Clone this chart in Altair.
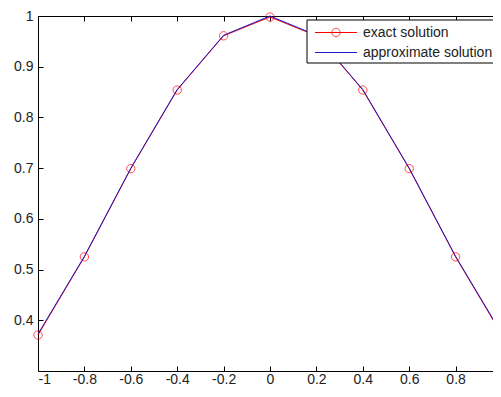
import altair as alt
import pandas as pd

x_vals = [-1.0, -0.8, -0.6, -0.4, -0.2, 0.0, 0.2, 0.4, 0.6, 0.8, 1.0]
exact_vals = [0.371, 0.525, 0.699, 0.854, 0.961, 0.998, 0.961, 0.854, 0.699, 0.525, 0.371]
approx_vals = [0.373, 0.526, 0.700, 0.855, 0.962, 1.000, 0.962, 0.855, 0.700, 0.526, 0.373]
x_ticks = [-1.0, -0.8, -0.6, -0.4, -0.2, 0.0, 0.2, 0.4, 0.6, 0.8, 1.0]
y_ticks = [0.4, 0.5, 0.6, 0.7, 0.8, 0.9, 1.0]
legend_labels = ["exact solution", "approximate solution"]

W, H = 464, 355
FONT = "Liberation Sans"

df = pd.DataFrame({"x": x_vals, "exact": exact_vals, "approx": approx_vals})
one = pd.DataFrame({"k": [0]})

xs = alt.Scale(domain=[-1, 1], nice=False, zero=False)
ys = alt.Scale(domain=[0.3, 1], nice=False, zero=False)

# the x = 1 label falls past the right edge of the picture in the reference
lab_expr = "datum.value >= 1 ? '' : replace(datum.label, '\u2212', '-')"

x_main = alt.Axis(orient="bottom", values=x_ticks, format="~g", labelExpr=lab_expr,
                  ticks=False, domain=False, grid=False, labelPadding=1,
                  labelFont=FONT, labelFontSize=14, labelColor="#222", title=None)
y_main = alt.Axis(orient="left", values=y_ticks, format="~g", ticks=False, domain=False,
                  grid=False, labelPadding=5, labelFont=FONT, labelFontSize=14,
                  labelColor="#222", title=None)
x_in_bottom = alt.Axis(orient="top", offset=-H, values=x_ticks, ticks=True, tickSize=5,
                       tickColor="black", labels=False, domain=False, grid=False, title=None)
y_in_left = alt.Axis(orient="right", offset=-W, values=y_ticks, ticks=True, tickSize=5,
                     tickColor="black", labels=False, domain=False, grid=False, title=None)
x_in_top = alt.Axis(orient="bottom", offset=-H, values=x_ticks, ticks=True, tickSize=5,
                    tickColor="black", labels=False, domain=False, grid=False, title=None)

base = alt.Chart(df)

exact_line = base.mark_line(color="#ff0000", strokeWidth=1).encode(
    x=alt.X("x:Q", scale=xs, axis=x_main),
    y=alt.Y("exact:Q", scale=ys, axis=y_main),
)
exact_pts = base.mark_point(shape="circle", filled=False, color="#ff0000", size=70,
                            strokeWidth=1).encode(
    x=alt.X("x:Q", scale=xs, axis=x_in_bottom),
    y=alt.Y("exact:Q", scale=ys, axis=y_in_left),
)
approx_line = base.mark_line(color="#1a1acc", strokeWidth=1).encode(
    x=alt.X("x:Q", scale=xs, axis=x_in_top),
    y=alt.Y("approx:Q", scale=ys, axis=None),
)

lg = alt.Chart(one)
leg_box = lg.mark_rect(fill="white", stroke="black", strokeWidth=1).encode(
    x=alt.value(269), x2=alt.value(490), y=alt.value(4), y2=alt.value(47))
leg_l1 = lg.mark_rule(color="#ff0000", strokeWidth=1).encode(
    x=alt.value(277), x2=alt.value(319), y=alt.value(16.5))
leg_c1 = lg.mark_point(shape="circle", filled=False, color="#ff0000", size=70,
                       strokeWidth=1).encode(x=alt.value(298), y=alt.value(16.5))
leg_l2 = lg.mark_rule(color="#1a1acc", strokeWidth=1).encode(
    x=alt.value(277), x2=alt.value(319), y=alt.value(36.5))
leg_t1 = lg.mark_text(text=legend_labels[0], align="left", baseline="middle", font=FONT,
                      fontSize=14, color="#222").encode(x=alt.value(325), y=alt.value(16.5))
leg_t2 = lg.mark_text(text=legend_labels[1], align="left", baseline="middle", font=FONT,
                      fontSize=14, color="#222").encode(x=alt.value(325), y=alt.value(36.5))

chart = alt.layer(
    exact_line, exact_pts, approx_line,
    leg_box, leg_l1, leg_c1, leg_l2, leg_t1, leg_t2,
).resolve_axis(x="independent", y="independent").properties(
    width=W, height=H,
    autosize=alt.AutoSizeParams(type="none"),
    padding={"left": 30, "top": 8, "right": -9, "bottom": 18},
    background="white",
).configure_view(stroke="black", strokeWidth=1)

chart.save("out.html", embed_options={"renderer": "svg", "actions": False})
